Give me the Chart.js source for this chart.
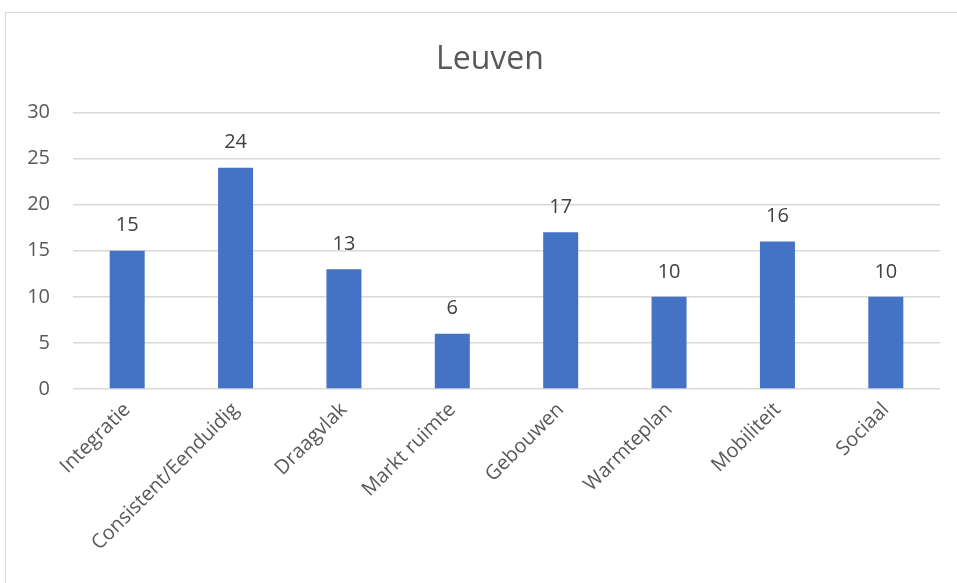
<!DOCTYPE html>
<html>
<head>
<meta charset="utf-8">
<script src="https://cdn.jsdelivr.net/npm/chart.js@4/dist/chart.umd.min.js"></script>
<style>
  body { margin: 0; background: #fff; }
  #wrap { position: relative; width: 957px; height: 583px; overflow: hidden; }
  #frame { position: absolute; left: 5px; top: 12px; width: 1000px; height: 600px; border: 1px solid #d9d9d9; }
  canvas { position: absolute; left: 0; top: 0; }
</style>
</head>
<body>
<div id="wrap">
  <div id="frame"></div>
  <canvas id="bar-chart" width="957" height="583"></canvas>
</div>
<script>
// Categorieën en waarden
const categories = ['Integratie', 'Consistent/Eenduidig', 'Draagvlak', 'Markt ruimte', 'Gebouwen', 'Warmteplan', 'Mobiliteit', 'Sociaal'];
const values = [15, 24, 13, 6, 17, 10, 16, 10];
const yTicks = [0, 5, 10, 15, 20, 25, 30];

// Labels boven de staven
const valueLabels = {
  id: 'valueLabels',
  afterDatasetsDraw(chart) {
    const ctx = chart.ctx;
    ctx.save();
    ctx.font = '20px "Open Sans"';
    ctx.fillStyle = '#404040';
    ctx.textAlign = 'center';
    ctx.textBaseline = 'middle';
    chart.getDatasetMeta(0).data.forEach((bar, i) => {
      ctx.fillText(values[i], bar.x, bar.y - 25);
    });
    ctx.restore();
  }
};

// titel iets naar rechts, zoals in het origineel
const shiftTitle = {
  id: 'shiftTitle',
  afterLayout(chart) {
    if (chart.titleBlock) {
      chart.titleBlock.left += 20;
      chart.titleBlock.right += 20;
    }
  }
};

const barChart = new Chart(document.getElementById('bar-chart'), {
  type: 'bar',
  data: {
    labels: categories,
    datasets: [{
      label: 'Leuven',
      data: values,
      backgroundColor: '#4472C4',
      barPercentage: 1,
      categoryPercentage: 0.323
    }]
  },
  options: {
    responsive: false,
    animation: false,
    layout: { padding: { left: 0, right: 17, top: 41, bottom: 0 } },
    plugins: {
      legend: { display: false },
      tooltip: { enabled: false },
      title: {
        display: true,
        text: 'Leuven',
        color: '#595959',
        font: { family: 'Open Sans', size: 32, weight: 'normal', lineHeight: 1.2 },
        padding: { top: 0, bottom: 33 }
      }
    },
    scales: {
      x: {
        grid: { display: false },
        border: { display: false },
        afterFit(s) { s.paddingLeft = 0; s.paddingRight = 0; s.height = 194; },
        ticks: {
          autoSkip: false,
          minRotation: 45,
          maxRotation: 45,
          color: '#595959',
          font: { family: 'Open Sans', size: 20 },
          padding: 1
        }
      },
      y: {
        min: 0,
        max: 30,
        afterBuildTicks(axis) { axis.ticks = yTicks.map(v => ({ value: v })); },
        afterFit(s) { s.width = 73; },
        grid: { color: '#d9d9d9', lineWidth: 1.5, drawTicks: false },
        border: { display: false },
        ticks: {
          color: '#595959',
          font: { family: 'Open Sans', size: 20 },
          padding: 23
        }
      }
    }
  },
  plugins: [valueLabels, shiftTitle]
});
</script>
</body>
</html>
